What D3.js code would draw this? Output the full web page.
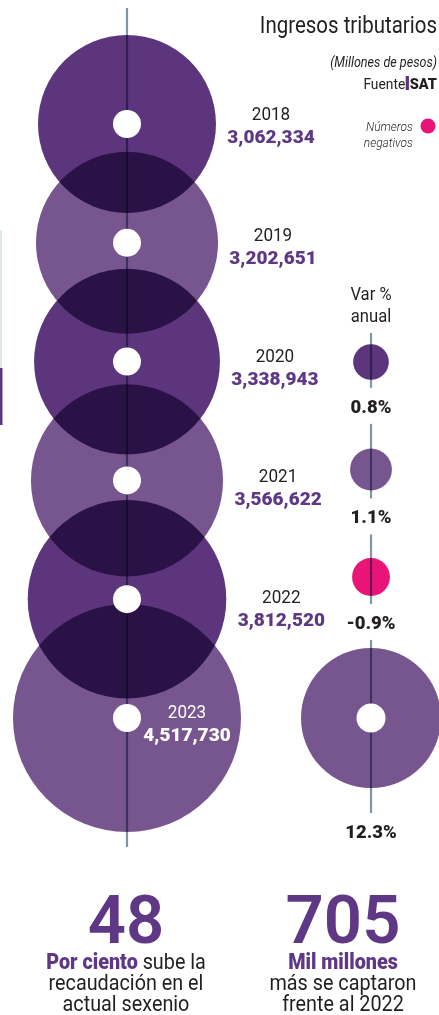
<!DOCTYPE html>
<html>
<head>
<meta charset="utf-8">
<script src="https://cdn.jsdelivr.net/npm/d3@7"></script>
<style>
  html, body { margin: 0; padding: 0; background: #fff; }
  svg { display: block; font-family: Roboto, "Noto Sans", sans-serif; }
</style>
</head>
<body>
<svg id="chart" width="439" height="1015"></svg>
<script>
// datos (millones de pesos, SAT)
var years = [2018, 2019, 2020, 2021, 2022, 2023];
var ingresos = [3062334, 3202651, 3338943, 3566622, 3812520, 4517730];
var varYears = [2020, 2021, 2022, 2023];
var varAnual = [0.8, 1.1, -0.9, 12.3];
var bigNumbers = ["48", "705"];
var bigLines = [
  [[["Por ciento", true], [" sube la", false]], [["recaudación en el", false]], [["actual sexenio", false]]],
  [[["Mil millones", true]], [["más se captaron", false]], [["frente al 2022", false]]]
];

var dark = "#5c357d", light = "#77568f", pink = "#ea1479";
var purpleText = "#5e3884", ink = "#231f20", lineColor = "#7d97a6";

var svg = d3.select("#chart");
var cx = 127;

// texto un poco condensado, como la tipografia original
function ctext(g, x, y, sx) {
  return g.append("g")
    .attr("transform", "translate(" + x + "," + y + ") scale(" + sx + ",1)")
    .append("text");
}

var y = d3.scalePoint().domain(years).range([124, 718]);
var r = d3.scaleSqrt()
  .domain([0, ingresos[ingresos.length - 2], d3.max(ingresos)])
  .range([0, 99.3, 114]);
var labelY = d3.scalePoint().domain(years.slice(0, 5)).range([120, 603]);
var fmt = d3.format(",");

// bordes de la pagina
svg.append("rect").attr("x", 0).attr("y", 230).attr("width", 2).attr("height", 138).attr("fill", "#dfe8ec");
svg.append("rect").attr("x", 0).attr("y", 368).attr("width", 2.5).attr("height", 57).attr("fill", dark);

// circulos principales
svg.append("g").selectAll("circle")
  .data(years)
  .join("circle")
  .attr("cx", cx)
  .attr("cy", d => y(d))
  .attr("r", (d, i) => r(ingresos[i]))
  .attr("fill", (d, i) => i % 2 ? light : dark)
  .style("mix-blend-mode", "multiply");

svg.append("line")
  .attr("x1", cx).attr("x2", cx)
  .attr("y1", y(years[0]) - r(ingresos[0]) - 27)
  .attr("y2", y(years[years.length - 1]) + r(d3.max(ingresos)) + 15)
  .attr("stroke", lineColor)
  .attr("stroke-width", 2.2)
  .style("mix-blend-mode", "multiply");

svg.append("g").selectAll("circle")
  .data(years)
  .join("circle")
  .attr("cx", cx)
  .attr("cy", d => y(d))
  .attr("r", 14)
  .attr("fill", "#fff");

// etiquetas de año
var labels = svg.append("g").attr("text-anchor", "middle");
years.forEach(function(yr, i) {
  var last = i == years.length - 1;
  var lx = last ? cx + 60 : cx + r(ingresos[i]) + 55;
  var ly = last ? y(yr) : labelY(yr);
  ctext(labels, lx, ly, 0.9)
    .attr("font-size", 19)
    .attr("fill", last ? "#fff" : ink)
    .text(yr);
  labels.append("text")
    .attr("x", lx).attr("y", ly + 23)
    .attr("font-size", 19)
    .attr("font-weight", 900)
    .attr("fill", last ? "#fff" : purpleText)
    .text(fmt(ingresos[i]));
});

// var % anual
var vx = 371;
var vr = d3.scaleSqrt().domain([0, d3.max(varAnual, Math.abs)]).range([0, 70]);
var vy = d3.scalePoint().domain(varYears.slice(0, 3)).range([362, 577]);

var vg = svg.append("g").attr("text-anchor", "middle");
ctext(vg, vx, 300, 0.9).attr("font-size", 18.5).attr("fill", ink).text("Var %");
ctext(vg, vx, 322, 0.9).attr("font-size", 18.5).attr("fill", ink).text("anual");

var prev = 322;
varYears.forEach(function(yr, i) {
  var v = varAnual[i];
  var rr = vr(Math.abs(v));
  var big = i == varYears.length - 1;
  var cy = big ? y(yr) : vy(yr);
  var base = cy + rr + (big ? 50 : 33);

  vg.append("circle")
    .attr("cx", vx).attr("cy", cy).attr("r", rr)
    .attr("fill", v < 0 ? pink : (years.indexOf(yr) % 2 ? light : dark));
  vg.append("line")
    .attr("x1", vx).attr("x2", vx)
    .attr("y1", prev + 11).attr("y2", base - 25)
    .attr("stroke", lineColor)
    .attr("stroke-width", 2.2)
    .style("mix-blend-mode", "multiply");
  if (big) {
    vg.append("circle").attr("cx", vx).attr("cy", cy).attr("r", 14.5).attr("fill", "#fff");
  }
  vg.append("text")
    .attr("x", vx).attr("y", base)
    .attr("font-size", 18.5)
    .attr("font-weight", 900)
    .attr("fill", ink)
    .text(v.toFixed(1) + "%");
  prev = base;
});

// encabezado
var head = svg.append("g").attr("text-anchor", "end");
ctext(head, 437, 33, 0.89)
  .attr("font-size", 23).attr("font-weight", 400).attr("fill", ink)
  .text("Ingresos tributarios");
ctext(head, 437, 67, 0.9)
  .attr("font-size", 14).attr("font-style", "italic").attr("font-weight", 400).attr("fill", ink)
  .text("(Millones de pesos)");

var sat = head.append("text").attr("x", 437).attr("y", 89)
  .attr("font-size", 14.5).attr("font-weight", 900).attr("fill", ink)
  .text("SAT");
var satW = sat.node().getComputedTextLength();
head.append("rect")
  .attr("x", 437 - satW - 4).attr("y", 76)
  .attr("width", 3.2).attr("height", 14)
  .attr("fill", dark);
ctext(head, 437 - satW - 4.5, 89, 0.92)
  .attr("font-size", 15).attr("fill", ink)
  .text("Fuente");

ctext(head, 413, 131, 0.92)
  .attr("font-size", 13).attr("font-style", "italic").attr("font-weight", 300).attr("fill", ink)
  .text("Números");
ctext(head, 413, 147, 0.92)
  .attr("font-size", 13).attr("font-style", "italic").attr("font-weight", 300).attr("fill", ink)
  .text("negativos");
head.append("circle").attr("cx", 428).attr("cy", 126).attr("r", 7.5).attr("fill", pink);

// cifras de abajo
var colX = [126, 343];
var foot = svg.append("g").attr("text-anchor", "middle");
bigNumbers.forEach(function(n, k) {
  foot.append("text")
    .attr("x", colX[k]).attr("y", 943)
    .attr("font-size", 67)
    .attr("font-weight", 600)
    .attr("fill", purpleText)
    .text(n);
  bigLines[k].forEach(function(parts, j) {
    var t = ctext(foot, colX[k], 969 + j * 21, 0.9)
      .attr("font-size", 22)
      .attr("fill", ink);
    parts.forEach(function(p) {
      t.append("tspan")
        .attr("font-weight", p[1] ? 900 : 400)
        .attr("fill", p[1] ? purpleText : ink)
        .text(p[0]);
    });
  });
});
</script>
</body>
</html>
